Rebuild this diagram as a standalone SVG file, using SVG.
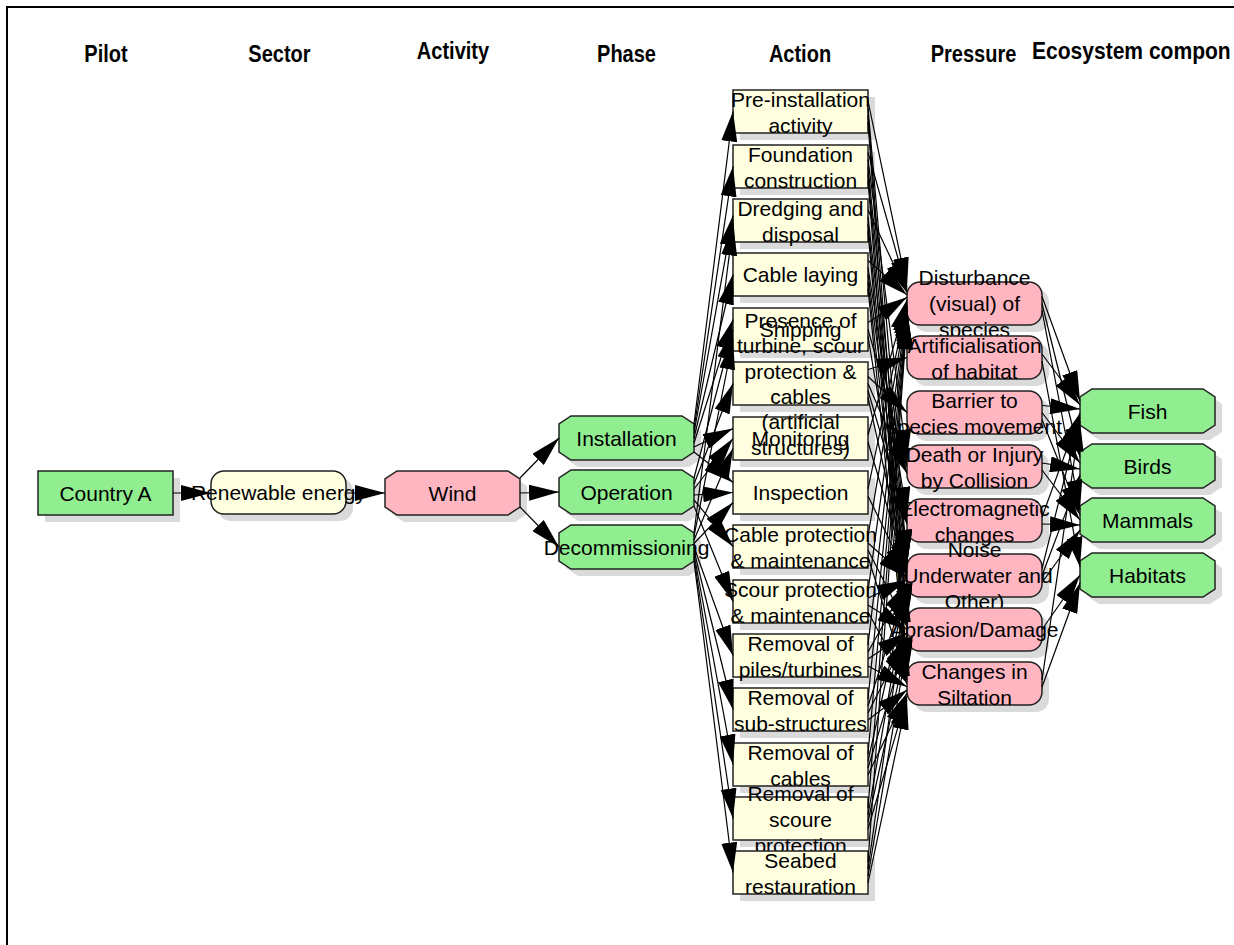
<svg xmlns="http://www.w3.org/2000/svg" width="1234" height="945" viewBox="0 0 1234 945">
<defs>
<style>
.t{font-family:"Liberation Sans",Arial,sans-serif;font-size:21px;fill:#000;text-anchor:middle}
.h{font-family:"Liberation Sans",Arial,sans-serif;font-size:23px;font-weight:bold;fill:#000;text-anchor:middle}
.sh{fill:#dadada;stroke:none}
.g{fill:#90ee90;stroke:#222;stroke-width:1.5}
.p{fill:#ffb6c1;stroke:#222;stroke-width:1.5}
.y{fill:#ffffe0;stroke:#222;stroke-width:1.5}
#connectors line{stroke:#000;stroke-width:1.2;fill:none;marker-end:url(#ah)}
</style>
<marker id="ah" markerUnits="userSpaceOnUse" viewBox="0 0 30 16" markerWidth="30" markerHeight="16" refX="30" refY="8" orient="auto"><path d="M0,0 L30,8 L0,16 z" fill="#000"/></marker>
<polygon id="oct" points="12,0 123,0 135,8 135,36 123,44 12,44 0,36 0,8"/>
</defs>
<rect width="1234" height="945" fill="#fff"/>
<path d="M7,945 V7 H1234" fill="none" stroke="#000" stroke-width="2"/>
<g id="headers">
<text class="h" transform="translate(106,62) scale(0.87,1)">Pilot</text>
<text class="h" transform="translate(279.5,62) scale(0.87,1)">Sector</text>
<text class="h" transform="translate(453,59) scale(0.87,1)">Activity</text>
<text class="h" transform="translate(626.5,62) scale(0.87,1)">Phase</text>
<text class="h" transform="translate(800,62) scale(0.87,1)">Action</text>
<text class="h" transform="translate(973.5,62) scale(0.87,1)">Pressure</text>
<text class="h" transform="translate(1032,59) scale(0.915,1)" style="text-anchor:start">Ecosystem compon</text>
</g>
<g id="nodes">
<g id="country-a" transform="translate(38,471)"><rect class="sh" x="7" y="7" width="135" height="44"/><rect class="g" width="135" height="44"/><text class="t" x="67.5" y="29.5">Country A</text></g>
<g id="renewable-energy" transform="translate(211,471)"><rect class="sh" x="7" y="7" width="135" height="43" rx="13"/><rect class="y" width="135" height="43" rx="13"/><text class="t" x="67.5" y="29">Renewable energy</text></g>
<g id="wind" transform="translate(385,471)"><use href="#oct" class="sh" x="7" y="7"/><use href="#oct" class="p"/><text class="t" x="67.5" y="29.5">Wind</text></g>
<g id="installation" transform="translate(559,416)"><use href="#oct" class="sh" x="7" y="7"/><use href="#oct" class="g"/><text class="t" x="67.5" y="29.5">Installation</text></g>
<g id="operation" transform="translate(559,470)"><use href="#oct" class="sh" x="7" y="7"/><use href="#oct" class="g"/><text class="t" x="67.5" y="29.5">Operation</text></g>
<g id="decommissioning" transform="translate(559,525)"><use href="#oct" class="sh" x="7" y="7"/><use href="#oct" class="g"/><text class="t" x="67.5" y="29.5">Decommissioning</text></g>

<g id="pre-installation" transform="translate(733,90)"><rect class="sh" x="7" y="7" width="135" height="43"/><rect class="y" width="135" height="43"/><text class="t" x="67.5" y="16.5">Pre-installation</text><text class="t" x="67.5" y="42.5">activity</text></g>
<g id="foundation" transform="translate(733,145)"><rect class="sh" x="7" y="7" width="135" height="43"/><rect class="y" width="135" height="43"/><text class="t" x="67.5" y="16.5">Foundation</text><text class="t" x="67.5" y="42.5">construction</text></g>
<g id="dredging" transform="translate(733,199)"><rect class="sh" x="7" y="7" width="135" height="43"/><rect class="y" width="135" height="43"/><text class="t" x="67.5" y="16.5">Dredging and</text><text class="t" x="67.5" y="42.5">disposal</text></g>
<g id="cable-laying" transform="translate(733,253)"><rect class="sh" x="7" y="7" width="135" height="43"/><rect class="y" width="135" height="43"/><text class="t" x="67.5" y="29">Cable laying</text></g>
<g id="shipping" transform="translate(733,308)"><rect class="sh" x="7" y="7" width="135" height="43"/><rect class="y" width="135" height="43"/><text class="t" x="67.5" y="29">Shipping</text></g>
<g id="monitoring" transform="translate(733,417)"><rect class="sh" x="7" y="7" width="135" height="43"/><rect class="y" width="135" height="43"/><text class="t" x="67.5" y="29">Monitoring</text></g>
<g id="presence" transform="translate(733,362)"><rect class="sh" x="7" y="7" width="135" height="43"/><rect class="y" width="135" height="43"/><text class="t" x="67.5" y="-34">Presence of</text><text class="t" x="67.5" y="-8.7">turbine, scour</text><text class="t" x="67.5" y="16.6">protection &amp;</text><text class="t" x="67.5" y="41.9">cables</text><text class="t" x="67.5" y="67.2">(artificial</text><text class="t" x="67.5" y="92.5">structures)</text></g>
<g id="inspection" transform="translate(733,471)"><rect class="sh" x="7" y="7" width="135" height="43"/><rect class="y" width="135" height="43"/><text class="t" x="67.5" y="29">Inspection</text></g>
<g id="cable-protection" transform="translate(733,525)"><rect class="sh" x="7" y="7" width="135" height="43"/><rect class="y" width="135" height="43"/><text class="t" x="67.5" y="16.5">Cable protection</text><text class="t" x="67.5" y="42.5">&amp; maintenance</text></g>
<g id="scour-protection" transform="translate(733,580)"><rect class="sh" x="7" y="7" width="135" height="43"/><rect class="y" width="135" height="43"/><text class="t" x="67.5" y="16.5">Scour protection</text><text class="t" x="67.5" y="42.5">&amp; maintenance</text></g>
<g id="removal-piles" transform="translate(733,634)"><rect class="sh" x="7" y="7" width="135" height="43"/><rect class="y" width="135" height="43"/><text class="t" x="67.5" y="16.5">Removal of</text><text class="t" x="67.5" y="42.5">piles/turbines</text></g>
<g id="removal-sub" transform="translate(733,688)"><rect class="sh" x="7" y="7" width="135" height="43"/><rect class="y" width="135" height="43"/><text class="t" x="67.5" y="16.5">Removal of</text><text class="t" x="67.5" y="42.5">sub-structures</text></g>
<g id="removal-cables" transform="translate(733,743)"><rect class="sh" x="7" y="7" width="135" height="43"/><rect class="y" width="135" height="43"/><text class="t" x="67.5" y="16.5">Removal of</text><text class="t" x="67.5" y="42.5">cables</text></g>
<g id="removal-scour" transform="translate(733,797)"><rect class="sh" x="7" y="7" width="135" height="43"/><rect class="y" width="135" height="43"/><text class="t" x="67.5" y="3.5">Removal of</text><text class="t" x="67.5" y="29.5">scoure</text><text class="t" x="67.5" y="55.5">protection</text></g>
<g id="seabed" transform="translate(733,851)"><rect class="sh" x="7" y="7" width="135" height="43"/><rect class="y" width="135" height="43"/><text class="t" x="67.5" y="16.5">Seabed</text><text class="t" x="67.5" y="42.5">restauration</text></g>

<g id="disturbance" transform="translate(907,282)"><rect class="sh" x="7" y="7" width="135" height="43" rx="13"/><rect class="p" width="135" height="43" rx="13"/><text class="t" x="67.5" y="3">Disturbance</text><text class="t" x="67.5" y="29">(visual) of</text><text class="t" x="67.5" y="55">species</text></g>
<g id="artificialisation" transform="translate(907,336)"><rect class="sh" x="7" y="7" width="135" height="43" rx="13"/><rect class="p" width="135" height="43" rx="13"/><text class="t" x="67.5" y="16.5">Artificialisation</text><text class="t" x="67.5" y="42.5">of habitat</text></g>
<g id="barrier" transform="translate(907,391)"><rect class="sh" x="7" y="7" width="135" height="43" rx="13"/><rect class="p" width="135" height="43" rx="13"/><text class="t" x="67.5" y="16.5">Barrier to</text><text class="t" x="67.5" y="42.5">species movement</text></g>
<g id="death-injury" transform="translate(907,445)"><rect class="sh" x="7" y="7" width="135" height="43" rx="13"/><rect class="p" width="135" height="43" rx="13"/><text class="t" x="67.5" y="16.5">Death or Injury</text><text class="t" x="67.5" y="42.5">by Collision</text></g>
<g id="electromagnetic" transform="translate(907,499)"><rect class="sh" x="7" y="7" width="135" height="43" rx="13"/><rect class="p" width="135" height="43" rx="13"/><text class="t" x="67.5" y="16.5">Electromagnetic</text><text class="t" x="67.5" y="42.5">changes</text></g>
<g id="noise" transform="translate(907,554)"><rect class="sh" x="7" y="7" width="135" height="43" rx="13"/><rect class="p" width="135" height="43" rx="13"/><text class="t" x="67.5" y="3">Noise</text><text class="t" x="67.5" y="29">(Underwater and</text><text class="t" x="67.5" y="55">Other)</text></g>
<g id="abrasion" transform="translate(907,608)"><rect class="sh" x="7" y="7" width="135" height="43" rx="13"/><rect class="p" width="135" height="43" rx="13"/><text class="t" x="67.5" y="29">Abrasion/Damage</text></g>
<g id="siltation" transform="translate(907,662)"><rect class="sh" x="7" y="7" width="135" height="43" rx="13"/><rect class="p" width="135" height="43" rx="13"/><text class="t" x="67.5" y="16.5">Changes in</text><text class="t" x="67.5" y="42.5">Siltation</text></g>

<g id="fish" transform="translate(1080,389)"><use href="#oct" class="sh" x="7" y="7"/><use href="#oct" class="g"/><text class="t" x="67.5" y="29.5">Fish</text></g>
<g id="birds" transform="translate(1080,444)"><use href="#oct" class="sh" x="7" y="7"/><use href="#oct" class="g"/><text class="t" x="67.5" y="29.5">Birds</text></g>
<g id="mammals" transform="translate(1080,498)"><use href="#oct" class="sh" x="7" y="7"/><use href="#oct" class="g"/><text class="t" x="67.5" y="29.5">Mammals</text></g>
<g id="habitats" transform="translate(1080,553)"><use href="#oct" class="sh" x="7" y="7"/><use href="#oct" class="g"/><text class="t" x="67.5" y="29.5">Habitats</text></g>
</g>
<g id="connectors">
<line x1="173" y1="493" x2="211" y2="493"/>
<line x1="346" y1="493" x2="385" y2="493"/>
<line x1="520" y1="478" x2="559" y2="438"/>
<line x1="520" y1="493" x2="559" y2="492"/>
<line x1="520" y1="507" x2="559" y2="547"/>

<line x1="694" y1="424" x2="733" y2="111.5"/>
<line x1="694" y1="429" x2="733" y2="166.5"/>
<line x1="694" y1="433" x2="733" y2="215.5"/>
<line x1="694" y1="438" x2="733" y2="274.5"/>
<line x1="694" y1="443" x2="733" y2="319.5"/>
<line x1="694" y1="447" x2="733" y2="428.5"/>
<line x1="694" y1="452" x2="733" y2="482.5"/>
<line x1="694" y1="478" x2="733" y2="329.5"/>
<line x1="694" y1="484" x2="733" y2="383.5"/>
<line x1="694" y1="489" x2="733" y2="438.5"/>
<line x1="694" y1="495" x2="733" y2="492.5"/>
<line x1="694" y1="500" x2="733" y2="546.5"/>
<line x1="694" y1="506" x2="733" y2="601.5"/>
<line x1="694" y1="533" x2="733" y2="225.5"/>
<line x1="694" y1="536.5" x2="733" y2="339.5"/>
<line x1="694" y1="540" x2="733" y2="448.5"/>
<line x1="694" y1="543.5" x2="733" y2="502.5"/>
<line x1="694" y1="547" x2="733" y2="655.5"/>
<line x1="694" y1="550.5" x2="733" y2="709.5"/>
<line x1="694" y1="554" x2="733" y2="764.5"/>
<line x1="694" y1="557.5" x2="733" y2="818.5"/>
<line x1="694" y1="561" x2="733" y2="872.5"/>

<line x1="868" y1="101" x2="907" y2="287.5"/>
<line x1="868" y1="108" x2="907" y2="559.5"/>
<line x1="868" y1="115" x2="907" y2="613.5"/>
<line x1="868" y1="122" x2="907" y2="667.5"/>
<line x1="868" y1="152.5" x2="907" y2="290"/>
<line x1="868" y1="159.5" x2="907" y2="459.5"/>
<line x1="868" y1="166.5" x2="907" y2="561.8"/>
<line x1="868" y1="173.5" x2="907" y2="616.7"/>
<line x1="868" y1="180.5" x2="907" y2="670.7"/>
<line x1="868" y1="210" x2="907" y2="292.4"/>
<line x1="868" y1="217" x2="907" y2="564.1"/>
<line x1="868" y1="224" x2="907" y2="619.9"/>
<line x1="868" y1="231" x2="907" y2="673.9"/>
<line x1="868" y1="260.5" x2="907" y2="294.9"/>
<line x1="868" y1="267.5" x2="907" y2="517"/>
<line x1="868" y1="274.5" x2="907" y2="566.4"/>
<line x1="868" y1="281.5" x2="907" y2="623.1"/>
<line x1="868" y1="288.5" x2="907" y2="677.1"/>
<line x1="868" y1="322.5" x2="907" y2="297.3"/>
<line x1="868" y1="329.5" x2="907" y2="466.5"/>
<line x1="868" y1="336.5" x2="907" y2="568.6"/>
<line x1="868" y1="369.5" x2="907" y2="357.5"/>
<line x1="868" y1="376.5" x2="907" y2="412.5"/>
<line x1="868" y1="383.5" x2="907" y2="473.5"/>
<line x1="868" y1="390.5" x2="907" y2="524"/>
<line x1="868" y1="397.5" x2="907" y2="570.9"/>
<line x1="868" y1="435" x2="907" y2="299.8"/>
<line x1="868" y1="442" x2="907" y2="573.2"/>
<line x1="868" y1="489" x2="907" y2="302.3"/>
<line x1="868" y1="496" x2="907" y2="575.5"/>
<line x1="868" y1="536" x2="907" y2="304.7"/>
<line x1="868" y1="543" x2="907" y2="577.8"/>
<line x1="868" y1="550" x2="907" y2="626.3"/>
<line x1="868" y1="557" x2="907" y2="680.3"/>
<line x1="868" y1="591" x2="907" y2="307.2"/>
<line x1="868" y1="598" x2="907" y2="580.1"/>
<line x1="868" y1="605" x2="907" y2="629.5"/>
<line x1="868" y1="612" x2="907" y2="683.5"/>
<line x1="868" y1="645" x2="907" y2="309.6"/>
<line x1="868" y1="652" x2="907" y2="582.4"/>
<line x1="868" y1="659" x2="907" y2="632.7"/>
<line x1="868" y1="666" x2="907" y2="686.7"/>
<line x1="868" y1="699" x2="907" y2="312.1"/>
<line x1="868" y1="706" x2="907" y2="584.6"/>
<line x1="868" y1="713" x2="907" y2="635.9"/>
<line x1="868" y1="720" x2="907" y2="689.9"/>
<line x1="868" y1="754" x2="907" y2="314.6"/>
<line x1="868" y1="761" x2="907" y2="586.9"/>
<line x1="868" y1="768" x2="907" y2="639.1"/>
<line x1="868" y1="775" x2="907" y2="693.1"/>
<line x1="868" y1="808" x2="907" y2="317"/>
<line x1="868" y1="815" x2="907" y2="589.2"/>
<line x1="868" y1="822" x2="907" y2="642.3"/>
<line x1="868" y1="829" x2="907" y2="696.3"/>
<line x1="868" y1="862" x2="907" y2="319.5"/>
<line x1="868" y1="869" x2="907" y2="591.5"/>
<line x1="868" y1="876" x2="907" y2="645.5"/>
<line x1="868" y1="883" x2="907" y2="699.5"/>

<line x1="1042" y1="296.5" x2="1080" y2="401"/>
<line x1="1042" y1="303.5" x2="1080" y2="457"/>
<line x1="1042" y1="310.5" x2="1080" y2="510"/>
<line x1="1042" y1="354" x2="1080" y2="405"/>
<line x1="1042" y1="361" x2="1080" y2="567"/>
<line x1="1042" y1="405.5" x2="1080" y2="409"/>
<line x1="1042" y1="412.5" x2="1080" y2="463"/>
<line x1="1042" y1="419.5" x2="1080" y2="515"/>
<line x1="1042" y1="463" x2="1080" y2="469"/>
<line x1="1042" y1="470" x2="1080" y2="520"/>
<line x1="1042" y1="517" x2="1080" y2="413"/>
<line x1="1042" y1="524" x2="1080" y2="525"/>
<line x1="1042" y1="568.5" x2="1080" y2="417"/>
<line x1="1042" y1="575.5" x2="1080" y2="475"/>
<line x1="1042" y1="582.5" x2="1080" y2="530"/>
<line x1="1042" y1="629.5" x2="1080" y2="575"/>
<line x1="1042" y1="680" x2="1080" y2="421"/>
<line x1="1042" y1="687" x2="1080" y2="583"/>
</g>
</svg>
